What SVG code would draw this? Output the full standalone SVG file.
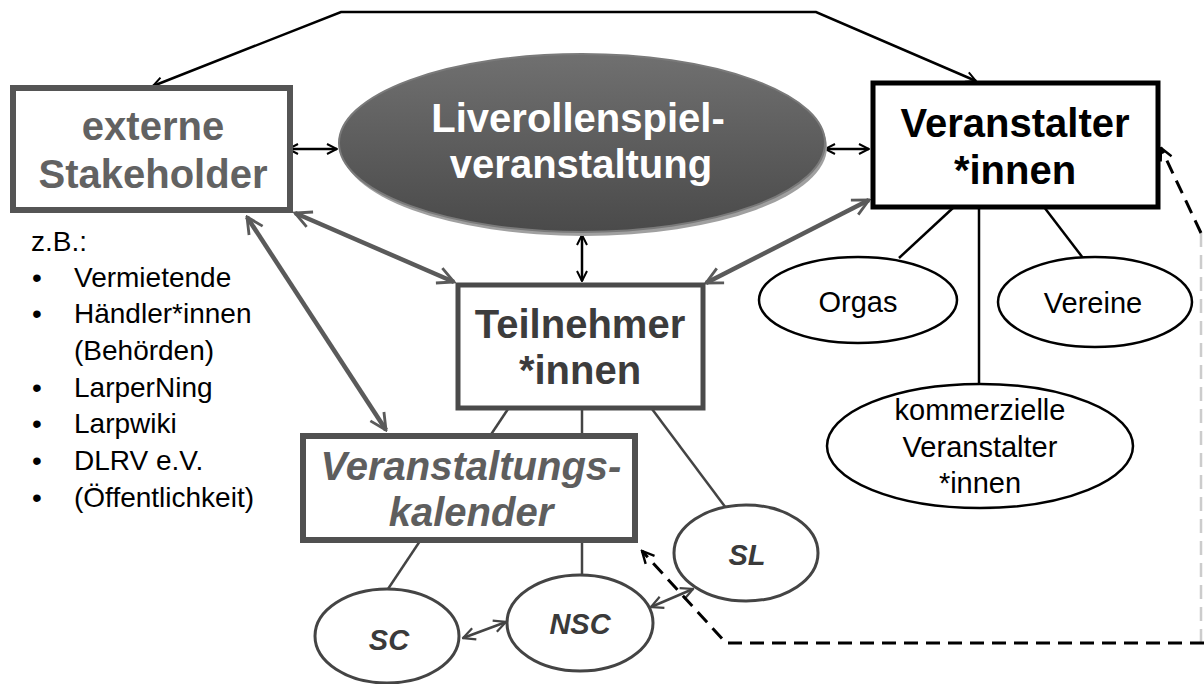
<svg xmlns="http://www.w3.org/2000/svg" width="1204" height="684" viewBox="0 0 1204 684">
<style>
text{font-family:"Liberation Sans",Arial,sans-serif;text-anchor:middle}
.big{font-size:40px;font-weight:bold}
.list{font-size:28px;text-anchor:start;fill:#000}
.small{font-size:29px;fill:#000}
.it{font-size:29px;font-weight:bold;font-style:italic;fill:#3a3a3a}
.blk{stroke:#000;stroke-width:2.5;fill:none}
.gry{stroke:#5a5a5a;stroke-width:4.5;fill:none}
.thin{stroke:#444;stroke-width:2.5;fill:none}
</style>
<defs>
<marker id="ab" viewBox="0 0 10 10" refX="9" refY="5" markerWidth="5" markerHeight="5" orient="auto-start-reverse" markerUnits="strokeWidth"><path d="M1,1 L9,5 L1,9" fill="none" stroke="#000" stroke-width="1.6"/></marker>
<marker id="ag" viewBox="0 0 10 10" refX="9" refY="5" markerWidth="4.5" markerHeight="4.5" orient="auto-start-reverse" markerUnits="strokeWidth"><path d="M1,1 L9,5 L1,9" fill="none" stroke="#5a5a5a" stroke-width="1.4"/></marker>
<marker id="at" viewBox="0 0 10 10" refX="9" refY="5" markerWidth="6" markerHeight="6" orient="auto-start-reverse" markerUnits="strokeWidth"><path d="M1,1 L9,5 L1,9" fill="none" stroke="#444" stroke-width="1.5"/></marker>
<marker id="ad" viewBox="0 0 10 10" refX="9" refY="5" markerWidth="5" markerHeight="5" orient="auto" markerUnits="strokeWidth"><path d="M1,1 L9,5 L1,9" fill="none" stroke="#000" stroke-width="1.6"/></marker>
<linearGradient id="eg" x1="0" y1="0" x2="0" y2="1"><stop offset="0" stop-color="#707070"/><stop offset="1" stop-color="#4a4a4a"/></linearGradient>
</defs>

<g id="connectors">
<polyline class="blk" points="153,86 341,12 816,12 976,81" marker-start="url(#ab)" marker-end="url(#ab)"/>
<line class="blk" x1="288" y1="149" x2="337" y2="149" marker-start="url(#ab)" marker-end="url(#ab)"/>
<line class="blk" x1="825" y1="149" x2="869" y2="149" marker-start="url(#ab)" marker-end="url(#ab)"/>
<line class="blk" x1="582" y1="235" x2="582" y2="281" marker-start="url(#ab)" marker-end="url(#ab)"/>
<line class="gry" x1="295" y1="213" x2="454" y2="282" marker-start="url(#ag)" marker-end="url(#ag)"/>
<line class="gry" x1="247" y1="217" x2="386" y2="430" marker-start="url(#ag)" marker-end="url(#ag)"/>
<line class="gry" x1="869" y1="200" x2="706" y2="283" marker-start="url(#ag)" marker-end="url(#ag)"/>
<line class="thin" x1="508" y1="409" x2="388" y2="589"/>
<line class="thin" x1="582" y1="409" x2="582" y2="575"/>
<line class="thin" x1="652" y1="409" x2="726" y2="508"/>
<line class="thin" x1="463" y1="638" x2="506" y2="622" stroke-width="2" marker-start="url(#at)" marker-end="url(#at)"/>
<line class="thin" x1="651" y1="607" x2="693" y2="589" stroke-width="2" marker-start="url(#at)" marker-end="url(#at)"/>
<line class="blk" x1="954" y1="207" x2="899" y2="258"/>
<line class="blk" x1="979" y1="207" x2="979" y2="384"/>
<line class="blk" x1="1044" y1="207" x2="1083" y2="258"/>
<polyline points="1201,233 1201,644" fill="none" stroke="#ccc" stroke-width="2.5" stroke-dasharray="14 8"/>
<polyline points="1201,233 1161,148" fill="none" stroke="#000" stroke-width="3" stroke-dasharray="14 8" marker-end="url(#ad)"/>
<polyline points="1204,643 726,643 642,551" fill="none" stroke="#000" stroke-width="3" stroke-dasharray="14 8" marker-end="url(#ad)"/>
</g>

<g id="stakeholder">
<rect x="13" y="88" width="277" height="122" fill="#fff" stroke="#555" stroke-width="6"/>
<text class="big" x="153" y="140" fill="#626262">externe</text>
<text class="big" x="153" y="188" fill="#626262">Stakeholder</text>
</g>

<g id="beispiele">
<text class="list" x="31" y="251">z.B.:</text>
<text class="list" x="32" y="287">•</text><text class="list" x="74" y="287">Vermietende</text>
<text class="list" x="32" y="323">•</text><text class="list" x="74" y="323">Händler*innen</text>
<text class="list" x="74" y="360">(Behörden)</text>
<text class="list" x="32" y="397">•</text><text class="list" x="74" y="397">LarperNing</text>
<text class="list" x="32" y="433">•</text><text class="list" x="74" y="433">Larpwiki</text>
<text class="list" x="32" y="470">•</text><text class="list" x="74" y="470">DLRV e.V.</text>
<text class="list" x="32" y="507">•</text><text class="list" x="74" y="507">(Öffentlichkeit)</text>
</g>

<g id="veranstaltung">
<ellipse cx="584" cy="147" rx="243" ry="89" fill="#a0a0a0"/>
<ellipse cx="582" cy="143" rx="243" ry="89" fill="url(#eg)" stroke="#7a7a7a" stroke-width="2"/>
<text class="big" x="578" y="132" fill="#fff">Liverollenspiel-</text>
<text class="big" x="581" y="178" fill="#fff">veranstaltung</text>
</g>

<g id="veranstalter">
<rect x="873" y="83" width="285" height="124" fill="#fff" stroke="#000" stroke-width="5"/>
<text class="big" x="1015" y="137" fill="#000">Veranstalter</text>
<text class="big" x="1015" y="184" fill="#000">*innen</text>
</g>

<g id="orgas">
<ellipse cx="858" cy="300" rx="99" ry="43" fill="#fff" stroke="#000" stroke-width="2.5"/>
<text class="small" x="858" y="312">Orgas</text>
</g>
<g id="vereine">
<ellipse cx="1095" cy="302" rx="97" ry="45" fill="#fff" stroke="#000" stroke-width="2.5"/>
<text class="small" x="1093" y="313">Vereine</text>
</g>
<g id="kommerzielle">
<ellipse cx="980" cy="446" rx="153" ry="62" fill="#fff" stroke="#000" stroke-width="2.5"/>
<text class="small" x="980" y="420">kommerzielle</text>
<text class="small" x="980" y="457">Veranstalter</text>
<text class="small" x="980" y="493">*innen</text>
</g>

<g id="teilnehmer">
<rect x="458" y="285" width="245" height="123" fill="#fff" stroke="#4a4a4a" stroke-width="5"/>
<text class="big" x="580" y="338" fill="#3c3c3c">Teilnehmer</text>
<text class="big" x="580" y="384" fill="#3c3c3c">*innen</text>
</g>

<g id="kalender">
<rect x="303" y="436" width="332" height="104" fill="#fff" stroke="#505050" stroke-width="6"/>
<text class="big" x="471" y="480" fill="#5e5e5e" font-style="italic">Veranstaltungs-</text>
<text class="big" x="471" y="526" fill="#5e5e5e" font-style="italic">kalender</text>
</g>

<g id="sc">
<ellipse cx="387" cy="636" rx="72" ry="47" fill="#fff" stroke="#444" stroke-width="3"/>
<text class="it" x="389" y="650">SC</text>
</g>
<g id="nsc">
<ellipse cx="580" cy="623" rx="73" ry="48" fill="#fff" stroke="#444" stroke-width="3"/>
<text class="it" x="580" y="634">NSC</text>
</g>
<g id="sl">
<ellipse cx="746" cy="553" rx="72" ry="48" fill="#fff" stroke="#444" stroke-width="3"/>
<text class="it" x="747" y="565">SL</text>
</g>
</svg>
